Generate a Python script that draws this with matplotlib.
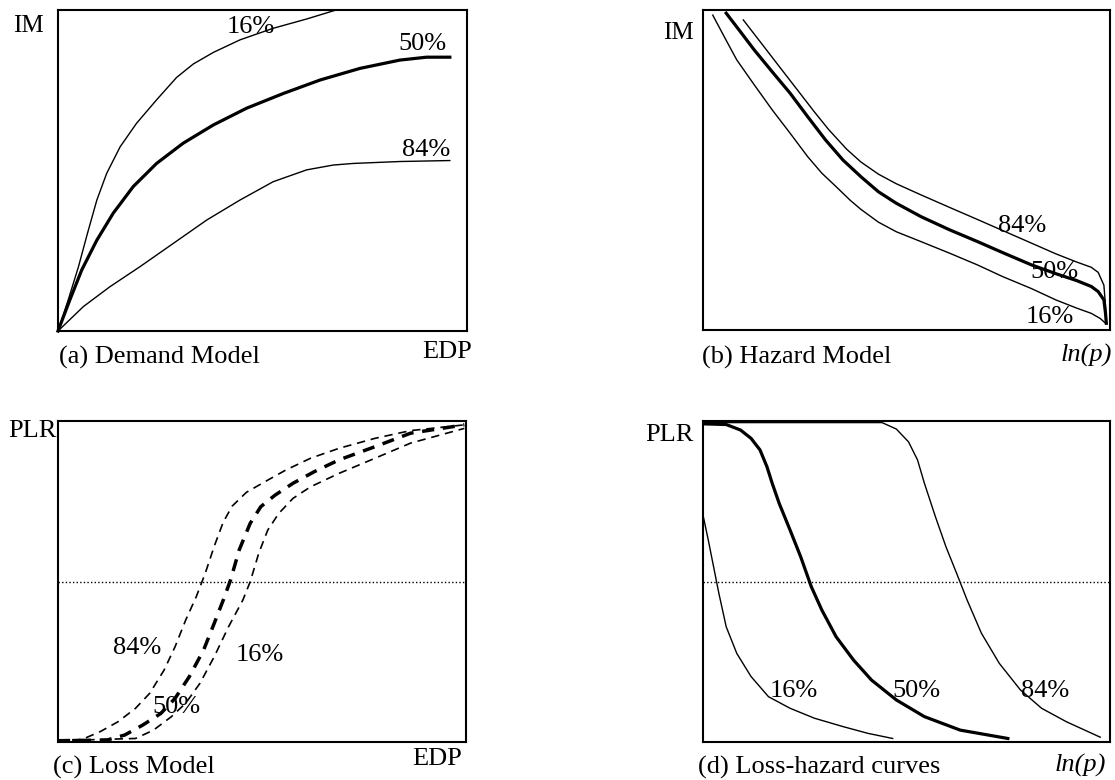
import matplotlib
matplotlib.use("Agg")
import matplotlib.pyplot as plt

plt.rcParams["font.family"] = ["Liberation Serif", "DejaVu Serif"]

# (a) demand model: IM against EDP for the three fractiles
dem_x16 = [0, 0.025, 0.050, 0.072, 0.095, 0.119, 0.152, 0.192, 0.241, 0.290, 0.331,
           0.380, 0.445, 0.526, 0.608, 0.680]
dem_y16 = [0, 0.097, 0.200, 0.304, 0.408, 0.491, 0.574, 0.647, 0.720, 0.790, 0.832,
           0.868, 0.907, 0.943, 0.972, 1.0]
dem_x50 = [0, 0.029, 0.058, 0.095, 0.135, 0.184, 0.241, 0.306, 0.380, 0.461, 0.551,
           0.641, 0.738, 0.836, 0.901, 0.958]
dem_y50 = [0, 0.097, 0.190, 0.283, 0.367, 0.450, 0.522, 0.585, 0.642, 0.694, 0.740,
           0.782, 0.818, 0.844, 0.853, 0.853]
dem_x84 = [0, 0.062, 0.127, 0.200, 0.282, 0.364, 0.445, 0.526, 0.608, 0.673, 0.722,
           0.836, 0.958]
dem_y84 = [0, 0.076, 0.138, 0.200, 0.273, 0.346, 0.408, 0.465, 0.502, 0.517, 0.522,
           0.528, 0.531]

# (b) hazard model: IM against ln(p)
haz_x16 = [0.024, 0.052, 0.083, 0.126, 0.170, 0.214, 0.257, 0.292, 0.327, 0.362, 0.388,
           0.431, 0.475, 0.536, 0.606, 0.675, 0.736, 0.806, 0.867, 0.919, 0.954, 0.976, 0.989]
haz_y16 = [0.984, 0.917, 0.844, 0.766, 0.688, 0.615, 0.542, 0.490, 0.448, 0.405, 0.377,
           0.337, 0.307, 0.276, 0.240, 0.203, 0.167, 0.130, 0.094, 0.068, 0.052, 0.036, 0.021]
haz_x50 = [0.057, 0.092, 0.126, 0.170, 0.214, 0.257, 0.301, 0.344, 0.388, 0.431, 0.475,
           0.536, 0.606, 0.675, 0.736, 0.806, 0.867, 0.919, 0.954, 0.971, 0.985, 0.989, 0.991]
haz_y50 = [0.990, 0.932, 0.875, 0.807, 0.740, 0.667, 0.594, 0.531, 0.479, 0.432, 0.396,
           0.354, 0.313, 0.276, 0.242, 0.204, 0.176, 0.154, 0.136, 0.120, 0.094, 0.052, 0.021]
haz_x84 = [0.099, 0.144, 0.187, 0.240, 0.274, 0.309, 0.353, 0.388, 0.431, 0.475, 0.536,
           0.606, 0.675, 0.736, 0.806, 0.867, 0.919, 0.954, 0.971, 0.985, 0.989, 0.991]
haz_y84 = [0.969, 0.895, 0.824, 0.737, 0.681, 0.626, 0.565, 0.525, 0.487, 0.457, 0.422,
           0.383, 0.345, 0.311, 0.272, 0.238, 0.212, 0.196, 0.180, 0.140, 0.075, 0.021]

# (c) loss model: PLR against EDP
loss_x84 = [0.0, 0.059, 0.103, 0.147, 0.190, 0.225, 0.260, 0.287, 0.313, 0.339, 0.361,
            0.383, 0.405, 0.427, 0.462, 0.506, 0.558, 0.619, 0.689, 0.777, 0.864, 0.996]
loss_y84 = [0.006, 0.008, 0.032, 0.063, 0.105, 0.152, 0.224, 0.297, 0.380, 0.453, 0.526,
            0.610, 0.685, 0.735, 0.778, 0.810, 0.847, 0.884, 0.915, 0.946, 0.970, 0.988]
loss_x50 = [0.0, 0.120, 0.164, 0.208, 0.252, 0.287, 0.322, 0.357, 0.383, 0.405, 0.423,
            0.444, 0.471, 0.497, 0.532, 0.576, 0.628, 0.689, 0.777, 0.864, 0.996]
loss_y50 = [0.004, 0.006, 0.022, 0.053, 0.089, 0.136, 0.204, 0.287, 0.370, 0.442, 0.505,
            0.598, 0.681, 0.733, 0.769, 0.806, 0.842, 0.879, 0.920, 0.962, 0.988]
loss_x16 = [0.0, 0.190, 0.234, 0.278, 0.313, 0.348, 0.383, 0.418, 0.453, 0.471, 0.492,
            0.514, 0.541, 0.576, 0.619, 0.689, 0.777, 0.864, 0.996]
loss_y16 = [0.004, 0.011, 0.037, 0.079, 0.121, 0.183, 0.266, 0.359, 0.442, 0.499, 0.588,
            0.660, 0.712, 0.759, 0.795, 0.837, 0.884, 0.931, 0.977]

# (d) loss-hazard curves: PLR against ln(p)
lh_x16 = [0.0, 0.013, 0.026, 0.039, 0.057, 0.083, 0.118, 0.161, 0.214, 0.274, 0.344,
          0.405, 0.466]
lh_y16 = [0.707, 0.629, 0.546, 0.463, 0.359, 0.276, 0.204, 0.141, 0.105, 0.074, 0.048,
          0.027, 0.011]
lh_x50 = [0.004, 0.057, 0.092, 0.118, 0.140, 0.157, 0.170, 0.187, 0.214, 0.240, 0.266,
          0.292, 0.327, 0.370, 0.414, 0.475, 0.544, 0.632, 0.749]
lh_y50 = [0.991, 0.989, 0.972, 0.946, 0.910, 0.858, 0.806, 0.744, 0.660, 0.577, 0.484,
          0.411, 0.328, 0.255, 0.193, 0.131, 0.079, 0.037, 0.011]
lh_x84 = [0.0, 0.440, 0.475, 0.505, 0.527, 0.544, 0.571, 0.597, 0.623, 0.649, 0.684,
          0.728, 0.780, 0.832, 0.893, 0.976]
lh_y84 = [0.995, 0.995, 0.975, 0.935, 0.879, 0.806, 0.702, 0.608, 0.526, 0.442, 0.339,
          0.245, 0.162, 0.105, 0.063, 0.015]

median_plr = 0.5

W, H = 1115, 780
fig = plt.figure(figsize=(W / 100, H / 100), dpi=100)


def px_axes(left, top, right, bottom):
    ax = fig.add_axes([left / W, 1 - bottom / H, (right - left) / W, (bottom - top) / H])
    ax.set_xlim(0, 1)
    ax.set_ylim(0, 1)
    ax.set_xticks([])
    ax.set_yticks([])
    for sp in ax.spines.values():
        sp.set_linewidth(1.5)
    return ax


def px_text(x, y, s, **kw):
    fig.text(x / W, 1 - y / H, s, va="center", **kw)


thin = dict(color="black", lw=1.0, clip_on=False, solid_joinstyle="round")
thick = dict(color="black", lw=2.3, clip_on=False, solid_joinstyle="round")
pct = dict(fontsize=19, ha="center", va="center")

# (a) Demand Model
ax = px_axes(58, 10, 467, 331)
ax.plot(dem_x16, dem_y16, **thin)
ax.plot(dem_x50, dem_y50, **thick)
ax.plot(dem_x84, dem_y84, **thin)
ax.text(0.472, 0.947, "16%", **pct)
ax.text(0.89, 0.895, "50%", **pct)
ax.text(0.90, 0.565, "84%", **pct)
px_text(44, 26, "IM", fontsize=18, ha="right")
px_text(59, 357, "(a) Demand Model", fontsize=19, ha="left")
px_text(472, 352, "EDP", fontsize=19, ha="right")

# (b) Hazard Model
ax = px_axes(703, 10, 1110, 330)
ax.plot(haz_x16, haz_y16, **thin)
ax.plot(haz_x50, haz_y50, **thick)
ax.plot(haz_x84, haz_y84, **thin)
ax.text(0.785, 0.325, "84%", **pct)
ax.text(0.863, 0.18, "50%", **pct)
ax.text(0.851, 0.04, "16%", **pct)
px_text(694, 33, "IM", fontsize=18, ha="right")
px_text(702, 357, "(b) Hazard Model", fontsize=19, ha="left")
px_text(1112, 355, "ln(p)", fontsize=19, ha="right", style="italic")

# (c) Loss Model
ax = px_axes(58, 421, 466, 742)
ax.axhline(median_plr, color="black", lw=1.0, linestyle=(0, (1, 1.6)))
ax.plot(loss_x84, loss_y84, color="black", lw=1.2, linestyle=(0, (5, 3.5)), clip_on=False)
ax.plot(loss_x50, loss_y50, color="black", lw=2.5, linestyle=(0, (3.5, 2.5)), clip_on=False)
ax.plot(loss_x16, loss_y16, color="black", lw=1.2, linestyle=(0, (5, 3.5)), clip_on=False)
ax.text(0.195, 0.293, "84%", **pct)
ax.text(0.495, 0.271, "16%", **pct)
ax.text(0.29, 0.109, "50%", **pct)
px_text(57, 431, "PLR", fontsize=19, ha="right")
px_text(53, 767, "(c) Loss Model", fontsize=19, ha="left")
px_text(462, 759, "EDP", fontsize=19, ha="right")

# (d) Loss-hazard curves
ax = px_axes(703, 421, 1110, 742)
ax.axhline(median_plr, color="black", lw=1.0, linestyle=(0, (1, 1.6)))
ax.plot(lh_x16, lh_y16, **thin)
ax.plot(lh_x50, lh_y50, **thick)
ax.plot(lh_x84, lh_y84, **thin)
ax.text(0.222, 0.16, "16%", **pct)
ax.text(0.525, 0.16, "50%", **pct)
ax.text(0.841, 0.16, "84%", **pct)
px_text(694, 435, "PLR", fontsize=19, ha="right")
px_text(698, 767, "(d) Loss-hazard curves", fontsize=19, ha="left")
px_text(1106, 765, "ln(p)", fontsize=19, ha="right", style="italic")

fig.savefig("out.png", dpi=100)
plt.close(fig)
